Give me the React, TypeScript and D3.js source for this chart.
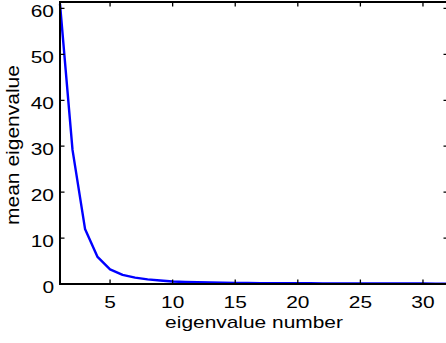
import React, {useRef, useEffect} from 'react'
import * as d3 from 'd3';

// mean eigenvalue for each eigenvalue number (1..32)
const eigNumbers = [1, 2, 3, 4, 5, 6, 7, 8, 9, 10, 11, 12, 13, 14, 15, 16,
                    17, 18, 19, 20, 21, 22, 23, 24, 25, 26, 27, 28, 29, 30, 31, 32];
const meanEig = [61.0, 29.2, 12.0, 5.9, 3.2, 2.0, 1.4, 1.0, 0.75, 0.55, 0.45, 0.38, 0.32, 0.28, 0.25, 0.22,
                 0.2, 0.18, 0.17, 0.16, 0.15, 0.14, 0.13, 0.12, 0.12, 0.11, 0.11, 0.1, 0.1, 0.1, 0.09, 0.09];
const xTicks = [5, 10, 15, 20, 25, 30];
const yTicks = [0, 10, 20, 30, 40, 50, 60];
const xLabel = "eigenvalue number";
const yLabel = "mean eigenvalue";

const layout = {width: 446, height: 343, left: 60, right: 448, top: 2, bottom: 284};
const stretch = 1.23;
const font = "'Liberation Sans', Arial, Helvetica, sans-serif";

const EigenPlot = () => {
  const ref = useRef(null);

  useEffect(() => {
    const svg = d3.select(ref.current);
    svg.selectAll("*").remove();

    const xScale = d3.scaleLinear().domain([1, 32]).range([layout.left, layout.right]);
    const yScale = d3.scaleLinear().domain([0, 61.4]).range([layout.bottom, layout.top]);

    const g = svg.append("g");

    // data line
    const line = d3.line().x((d, i) => xScale(eigNumbers[i])).y(d => yScale(d));
    g.append("path")
      .datum(meanEig)
      .attr("d", line)
      .attr("fill", "none")
      .attr("stroke", "#0000ff")
      .attr("stroke-width", 2.4)
      .attr("stroke-linejoin", "round");

    // ticks pointing inward, on all four sides
    const tl = 4.5;
    g.selectAll(".xtick")
      .data(xTicks)
      .join("path")
      .attr("d", d => `M${xScale(d)},${layout.bottom}v${-tl}M${xScale(d)},${layout.top}v${tl}`)
      .attr("stroke", "black")
      .attr("stroke-width", 1.3);
    g.selectAll(".ytick")
      .data(yTicks)
      .join("path")
      .attr("d", d => `M${layout.left},${yScale(d)}h${tl}M${layout.right},${yScale(d)}h${-tl}`)
      .attr("stroke", "black")
      .attr("stroke-width", 1.3);

    // box
    g.append("rect")
      .attr("x", layout.left)
      .attr("y", layout.top)
      .attr("width", layout.right - layout.left)
      .attr("height", layout.bottom - layout.top)
      .attr("fill", "none")
      .attr("stroke", "black")
      .attr("stroke-width", 2);

    g.selectAll(".xlab")
      .data(xTicks)
      .join("text")
      .attr("transform", d => `translate(${xScale(d)},${layout.bottom + 24}) scale(${stretch},1)`)
      .attr("text-anchor", "middle")
      .attr("font-family", font)
      .attr("font-size", 17)
      .text(d => d);

    g.selectAll(".ylab")
      .data(yTicks)
      .join("text")
      .attr("transform", d => `translate(${layout.left - 6},${yScale(d) + 8.5}) scale(${stretch},1)`)
      .attr("text-anchor", "end")
      .attr("font-family", font)
      .attr("font-size", 17)
      .text(d => d);

    g.append("text")
      .attr("transform", `translate(${(layout.left + layout.right) / 2},${layout.bottom + 43.5}) scale(${stretch},1)`)
      .attr("text-anchor", "middle")
      .attr("font-family", font)
      .attr("font-size", 17)
      .text(xLabel);

    g.append("text")
      .attr("transform", `translate(19,145) rotate(-90)`)
      .attr("text-anchor", "middle")
      .attr("font-family", font)
      .attr("font-size", 18.5)
      .attr("textLength", 160)
      .attr("lengthAdjust", "spacingAndGlyphs")
      .text(yLabel);
  }, []);

  return (
    <svg ref={ref} width={layout.width} height={layout.height}
         style={{position: "absolute", left: 0, top: 0, background: "white"}} />
  );
};

export default function App() {
  return <EigenPlot />;
}
